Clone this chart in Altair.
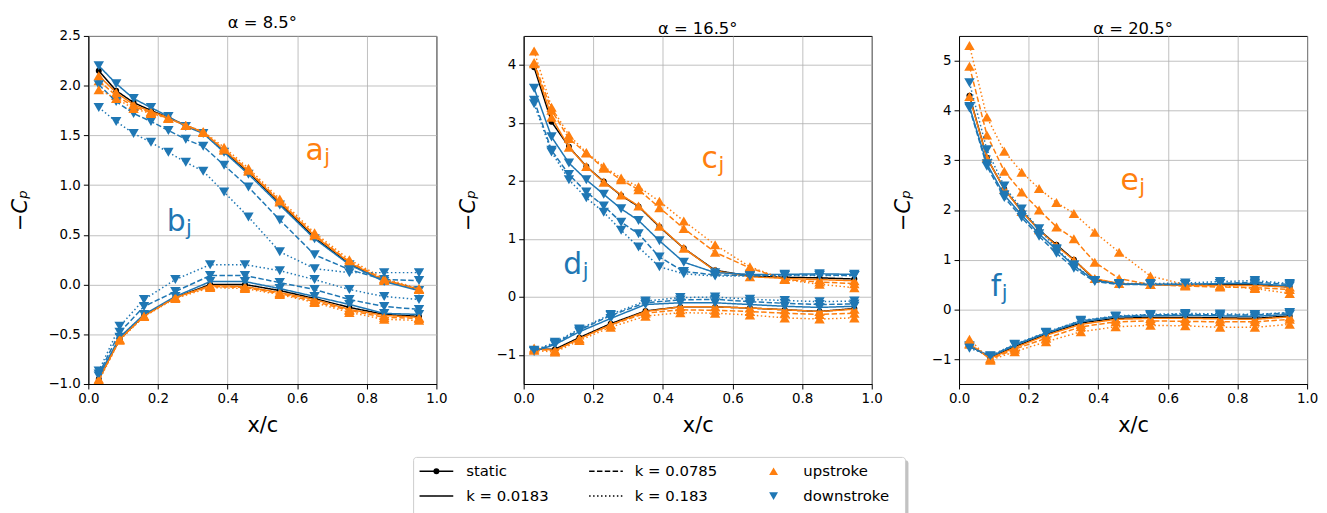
import altair as alt
import pandas as pd

FONT = "DejaVu Sans"
ORANGE = "#ff7f0e"
BLUE = "#1f77b4"

# ---------------- data ----------------
X_UPPER = [0.03, 0.08, 0.13, 0.18, 0.23, 0.28, 0.33, 0.39, 0.46, 0.55, 0.65, 0.75, 0.85, 0.95]
X_LOWER = [0.03, 0.09, 0.16, 0.25, 0.35, 0.45, 0.55, 0.65, 0.75, 0.85, 0.95]

PANEL_TITLES = ["α = 8.5°", "α = 16.5°", "α = 20.5°"]
Y_DOMAINS = [[-1.0, 2.5], [-1.5, 4.5], [-1.5, 5.5]]
Y_TICKS = [[-1.0, -0.5, 0.0, 0.5, 1.0, 1.5, 2.0, 2.5], [-1, 0, 1, 2, 3, 4], [-1, 0, 1, 2, 3, 4, 5]]
Y_FORMATS = [".1f", "d", "d"]
X_TICKS = [0.0, 0.2, 0.4, 0.6, 0.8, 1.0]

SERIES = ["static", "up_0183", "down_0183", "up_0785", "down_0785", "up_183", "down_183"]

# alpha = 8.5 deg, upper surface
a8_upper_static = [2.15, 1.95, 1.83, 1.75, 1.68, 1.60, 1.53, 1.34, 1.13, 0.82, 0.47, 0.21, 0.04, -0.05]
a8_upper_up_0183 = [2.10, 1.93, 1.81, 1.74, 1.68, 1.60, 1.53, 1.35, 1.14, 0.83, 0.49, 0.22, 0.04, -0.05]
a8_upper_down_0183 = [2.20, 2.02, 1.87, 1.78, 1.69, 1.59, 1.52, 1.33, 1.11, 0.80, 0.46, 0.20, 0.03, -0.06]
a8_upper_up_0785 = [2.05, 1.90, 1.79, 1.73, 1.67, 1.60, 1.53, 1.36, 1.15, 0.84, 0.50, 0.23, 0.05, -0.05]
a8_upper_down_0785 = [2.01, 1.84, 1.72, 1.64, 1.55, 1.46, 1.39, 1.20, 0.98, 0.65, 0.30, 0.15, 0.05, 0.04]
a8_upper_up_183 = [1.96, 1.87, 1.77, 1.72, 1.67, 1.60, 1.54, 1.38, 1.17, 0.86, 0.52, 0.25, 0.06, -0.04]
a8_upper_down_183 = [1.78, 1.64, 1.52, 1.43, 1.33, 1.23, 1.14, 0.93, 0.68, 0.33, 0.16, 0.12, 0.12, 0.12]
# alpha = 8.5 deg, lower surface
a8_lower_static = [-0.95, -0.55, -0.31, -0.13, 0.00, 0.00, -0.06, -0.14, -0.23, -0.30, -0.32]
a8_lower_up_0183 = [-0.95, -0.55, -0.31, -0.13, -0.01, -0.02, -0.08, -0.15, -0.25, -0.31, -0.33]
a8_lower_down_0183 = [-0.92, -0.53, -0.30, -0.12, 0.03, 0.03, -0.04, -0.12, -0.20, -0.29, -0.30]
a8_lower_up_0785 = [-0.96, -0.55, -0.32, -0.13, -0.02, -0.03, -0.09, -0.17, -0.26, -0.33, -0.34]
a8_lower_down_0785 = [-0.90, -0.48, -0.22, -0.07, 0.09, 0.09, 0.02, -0.05, -0.15, -0.22, -0.25]
a8_lower_up_183 = [-0.97, -0.56, -0.32, -0.14, -0.03, -0.04, -0.10, -0.18, -0.28, -0.35, -0.36]
a8_lower_down_183 = [-0.87, -0.42, -0.15, 0.05, 0.20, 0.20, 0.14, 0.05, -0.05, -0.12, -0.15]

# alpha = 16.5 deg, upper surface
a16_upper_static = [3.96, 3.02, 2.59, 2.25, 1.99, 1.75, 1.56, 1.21, 0.84, 0.46, 0.36, 0.34, 0.33, 0.31]
a16_upper_up_0183 = [4.02, 3.10, 2.58, 2.25, 1.98, 1.76, 1.57, 1.22, 0.84, 0.45, 0.35, 0.32, 0.30, 0.28]
a16_upper_down_0183 = [3.60, 2.76, 2.31, 2.02, 1.77, 1.52, 1.32, 0.97, 0.60, 0.42, 0.39, 0.39, 0.40, 0.39]
a16_upper_up_0785 = [4.04, 3.22, 2.73, 2.48, 2.22, 2.02, 1.85, 1.54, 1.18, 0.77, 0.50, 0.30, 0.26, 0.23]
a16_upper_down_0785 = [3.39, 2.53, 2.11, 1.81, 1.57, 1.29, 1.09, 0.69, 0.44, 0.38, 0.37, 0.38, 0.38, 0.37]
a16_upper_up_183 = [4.24, 3.27, 2.79, 2.49, 2.25, 2.05, 1.90, 1.65, 1.31, 0.90, 0.52, 0.30, 0.22, 0.16]
a16_upper_down_183 = [3.33, 2.50, 2.02, 1.71, 1.46, 1.15, 0.86, 0.52, 0.40, 0.36, 0.36, 0.37, 0.37, 0.37]
# alpha = 16.5 deg, lower surface
a16_lower_static = [-0.90, -0.90, -0.70, -0.46, -0.24, -0.17, -0.17, -0.19, -0.22, -0.25, -0.20]
a16_lower_up_0183 = [-0.88, -0.92, -0.72, -0.48, -0.25, -0.17, -0.17, -0.19, -0.22, -0.25, -0.21]
a16_lower_down_0183 = [-0.94, -0.82, -0.60, -0.37, -0.13, -0.10, -0.10, -0.13, -0.16, -0.18, -0.16]
a16_lower_up_0785 = [-0.90, -0.93, -0.72, -0.48, -0.28, -0.22, -0.23, -0.25, -0.28, -0.30, -0.28]
a16_lower_down_0785 = [-0.93, -0.80, -0.57, -0.32, -0.10, -0.05, -0.04, -0.08, -0.11, -0.13, -0.12]
a16_lower_up_183 = [-0.92, -0.95, -0.75, -0.52, -0.33, -0.27, -0.28, -0.31, -0.36, -0.38, -0.36]
a16_lower_down_183 = [-0.92, -0.78, -0.55, -0.30, -0.07, -0.01, 0.00, -0.04, -0.06, -0.08, -0.07]

# alpha = 20.5 deg, upper surface
a20_upper_static = [4.30, 3.05, 2.42, 1.98, 1.60, 1.30, 1.00, 0.60, 0.52, 0.50, 0.50, 0.50, 0.50, 0.45]
a20_upper_up_0183 = [4.28, 3.05, 2.42, 1.97, 1.60, 1.28, 0.99, 0.62, 0.52, 0.50, 0.48, 0.48, 0.48, 0.45]
a20_upper_down_0183 = [4.08, 2.93, 2.30, 1.90, 1.52, 1.20, 0.88, 0.58, 0.51, 0.50, 0.50, 0.52, 0.52, 0.47]
a20_upper_up_0785 = [4.89, 3.51, 2.78, 2.36, 2.00, 1.66, 1.42, 0.95, 0.62, 0.50, 0.47, 0.45, 0.44, 0.40]
a20_upper_down_0785 = [4.05, 2.88, 2.25, 1.85, 1.47, 1.13, 0.83, 0.56, 0.50, 0.50, 0.50, 0.52, 0.55, 0.50]
a20_upper_up_183 = [5.31, 3.87, 3.18, 2.76, 2.43, 2.15, 1.93, 1.55, 1.15, 0.67, 0.50, 0.47, 0.42, 0.32]
a20_upper_down_183 = [4.56, 3.21, 2.48, 2.02, 1.62, 1.22, 0.90, 0.58, 0.52, 0.52, 0.53, 0.56, 0.58, 0.52]
# alpha = 20.5 deg, lower surface
a20_lower_static = [-0.72, -0.97, -0.75, -0.50, -0.27, -0.18, -0.16, -0.16, -0.17, -0.18, -0.13]
a20_lower_up_0183 = [-0.70, -0.98, -0.77, -0.52, -0.30, -0.20, -0.18, -0.18, -0.19, -0.20, -0.15]
a20_lower_down_0183 = [-0.73, -0.95, -0.72, -0.48, -0.25, -0.15, -0.13, -0.12, -0.13, -0.14, -0.10]
a20_lower_up_0785 = [-0.68, -1.00, -0.80, -0.58, -0.35, -0.25, -0.23, -0.24, -0.25, -0.25, -0.20]
a20_lower_down_0785 = [-0.75, -0.94, -0.71, -0.47, -0.23, -0.14, -0.11, -0.10, -0.11, -0.11, -0.07]
a20_lower_up_183 = [-0.60, -1.02, -0.85, -0.65, -0.45, -0.35, -0.32, -0.33, -0.36, -0.36, -0.30]
a20_lower_down_183 = [-0.78, -0.93, -0.70, -0.46, -0.22, -0.13, -0.10, -0.08, -0.09, -0.10, -0.06]

# annotation labels (letter with subscript j), in data coordinates of each panel
ANNOT_LETTERS = [["a", "b"], ["c", "d"], ["e", "f"]]
ANNOT_X = [[0.624, 0.225], [0.511, 0.114], [0.464, 0.091]]
ANNOT_Y = [[1.254, 0.536], [2.226, 0.397], [2.406, 0.27]]

# legend
LEG_LABELS = ["static", "k = 0.0183", "k = 0.0785", "k = 0.183", "upstroke", "downstroke"]
LEG_COL = [0, 0, 1, 1, 2, 2]
LEG_ROW = [0, 1, 0, 1, 0, 1]

# ---------------- assembly ----------------
PANEL_DATA = [
    {("upper", s): globals()[f"a8_upper_{s}"] for s in SERIES} | {("lower", s): globals()[f"a8_lower_{s}"] for s in SERIES},
    {("upper", s): globals()[f"a16_upper_{s}"] for s in SERIES} | {("lower", s): globals()[f"a16_lower_{s}"] for s in SERIES},
    {("upper", s): globals()[f"a20_upper_{s}"] for s in SERIES} | {("lower", s): globals()[f"a20_lower_{s}"] for s in SERIES},
]

DASHES = {"solid": [1, 0], "dashed": [5.5, 2.4], "dotted": [1.5, 2.5]}
TRI = 110
STYLE = {
    "static": ("black", "solid", "circle", 36),
    "up_0183": (ORANGE, "solid", "triangle-up", TRI),
    "down_0183": (BLUE, "solid", "triangle-down", TRI),
    "up_0785": (ORANGE, "dashed", "triangle-up", TRI),
    "down_0785": (BLUE, "dashed", "triangle-down", TRI),
    "up_183": (ORANGE, "dotted", "triangle-up", TRI),
    "down_183": (BLUE, "dotted", "triangle-down", TRI),
}
GLYPH_W = {"a": 0.613, "b": 0.635, "c": 0.55, "d": 0.635, "e": 0.615, "f": 0.352}


def make_panel(i):
    rows = []
    for (surf, s), vals in PANEL_DATA[i].items():
        xs = X_UPPER if surf == "upper" else X_LOWER
        for x, v in zip(xs, vals):
            rows.append({"surface": surf, "series": s, "x": x, "cp": v})
    df = pd.DataFrame(rows)

    xaxis = alt.Axis(values=X_TICKS, format=".1f", title="x/c", labelFlush=False, grid=True)
    yaxis = alt.Axis(values=Y_TICKS[i], format=Y_FORMATS[i], title="−Cₚ", grid=True)
    xenc = alt.X("x:Q", scale=alt.Scale(domain=[0, 1], nice=False), axis=xaxis)
    yenc = alt.Y("cp:Q", scale=alt.Scale(domain=Y_DOMAINS[i], nice=False, zero=False), axis=yaxis)

    layers = []
    for s in SERIES:
        color, dash, shape, size = STYLE[s]
        sub = df[df.series == s]
        base = alt.Chart(sub)
        layers.append(base.mark_line(color=color, strokeWidth=1.5, strokeDash=DASHES[dash], clip=True)
                      .encode(x=xenc, y=yenc, detail="surface:N"))
        layers.append(base.mark_point(shape=shape, filled=True, size=size, color=color, opacity=1, clip=True)
                      .encode(x=xenc, y=yenc))

    for j, letter in enumerate(ANNOT_LETTERS[i]):
        color = ORANGE if j == 0 else BLUE
        adf = pd.DataFrame({"x": [ANNOT_X[i][j]], "cp": [ANNOT_Y[i][j]], "t": [letter], "s": ["j"]})
        ab = alt.Chart(adf)
        layers.append(ab.mark_text(align="left", baseline="alphabetic", fontSize=30, font=FONT, color=color)
                      .encode(x=xenc, y=yenc, text="t:N"))
        layers.append(ab.mark_text(align="left", baseline="alphabetic", fontSize=21, font=FONT, color=color,
                                   dx=GLYPH_W[letter] * 30 + 0.5, dy=4)
                      .encode(x=xenc, y=yenc, text="s:N"))

    return alt.layer(*layers).properties(
        width=351, height=351,
        title=alt.TitleParams(PANEL_TITLES[i], fontSize=16.5, fontWeight="normal", font=FONT, color="black", offset=-2),
    )


panels = alt.hconcat(*[make_panel(i) for i in range(3)], spacing=8)

# ----- legend (its view origin is aligned with the first panel's plot area) -----
LEG_OFFSET = 328
COL_LINE_X = [6, 177]
COL_TEXT_X = [53, 223, 393]
ROW_Y = [14, 39]
LEG_W, LEG_H = 496, 62

seg_rows, mk_rows, txt_rows = [], [], []
for lab, c, r in zip(LEG_LABELS, LEG_COL, LEG_ROW):
    y = ROW_Y[r]
    txt_rows.append({"x": LEG_OFFSET + COL_TEXT_X[c], "y": y, "label": lab})
    if c < 2:
        dash = ["solid", "solid", "dashed", "dotted"][LEG_LABELS.index(lab)]
        seg_rows.append({"x": LEG_OFFSET + COL_LINE_X[c], "x2": LEG_OFFSET + COL_LINE_X[c] + 34, "y": y, "dash": dash})
        if lab == "static":
            mk_rows.append({"x": LEG_OFFSET + COL_LINE_X[c] + 17, "y": y, "kind": "static"})
    else:
        mk_rows.append({"x": LEG_OFFSET + 363, "y": y, "kind": lab})

TOTAL_W = LEG_OFFSET + LEG_W + 6
lx = alt.Scale(domain=[0, TOTAL_W], nice=False, zero=True)
ly = alt.Scale(domain=[0, LEG_H + 4], nice=False, reverse=True)

box_df = pd.DataFrame({"x": [LEG_OFFSET], "x2": [LEG_OFFSET + LEG_W], "y": [0], "y2": [LEG_H]})
shadow_df = pd.DataFrame({"x": [LEG_OFFSET + 3], "x2": [LEG_OFFSET + LEG_W + 3], "y": [3], "y2": [LEG_H + 3]})
leg_layers = [
    alt.Chart(shadow_df).mark_rect(color="#999999", opacity=0.6, cornerRadius=3).encode(
        x=alt.X("x:Q", scale=lx, axis=None), x2="x2:Q", y=alt.Y("y:Q", scale=ly, axis=None), y2="y2:Q"),
    alt.Chart(box_df).mark_rect(fill="white", stroke="#cccccc", strokeWidth=1, cornerRadius=3).encode(
        x=alt.X("x:Q", scale=lx, axis=None), x2="x2:Q", y=alt.Y("y:Q", scale=ly, axis=None), y2="y2:Q"),
]
seg_df = pd.DataFrame(seg_rows)
for d in ["solid", "dashed", "dotted"]:
    leg_layers.append(alt.Chart(seg_df[seg_df.dash == d]).mark_rule(color="black", strokeWidth=1.5, strokeDash=DASHES[d])
                      .encode(x=alt.X("x:Q", scale=lx, axis=None), x2="x2:Q", y=alt.Y("y:Q", scale=ly, axis=None)))
mk_df = pd.DataFrame(mk_rows)
for kind, (color, shape, size) in {"static": ("black", "circle", 36),
                                   "upstroke": (ORANGE, "triangle-up", 80),
                                   "downstroke": (BLUE, "triangle-down", 80)}.items():
    leg_layers.append(alt.Chart(mk_df[mk_df.kind == kind]).mark_point(shape=shape, filled=True, size=size, color=color, opacity=1)
                      .encode(x=alt.X("x:Q", scale=lx, axis=None), y=alt.Y("y:Q", scale=ly, axis=None)))
leg_layers.append(alt.Chart(pd.DataFrame(txt_rows)).mark_text(align="left", baseline="middle", fontSize=15, font=FONT, color="black")
                  .encode(x=alt.X("x:Q", scale=lx, axis=None), y=alt.Y("y:Q", scale=ly, axis=None), text="label:N"))

legend = alt.layer(*leg_layers).properties(width=TOTAL_W, height=LEG_H + 4, view=alt.ViewBackground(stroke=None))

chart = alt.vconcat(panels, legend, spacing=21).properties(
    padding={"left": 0, "top": 4, "right": 0, "bottom": 0}
).configure_view(stroke="black", strokeWidth=1).configure_axis(
    labelFont=FONT, titleFont=FONT, labelFontSize=13.5, labelColor="black",
    titleFontSize=21, titleFontWeight="normal", titleColor="black",
    tickColor="black", tickSize=5, domainColor="black", labelPadding=3,
    gridColor="#b0b0b0", gridWidth=0.8,
).configure_axisX(titlePadding=9).configure_axisY(titleFontStyle="italic", titlePadding=18)

chart.save("out.html", embed_options={"renderer": "svg", "actions": False})
